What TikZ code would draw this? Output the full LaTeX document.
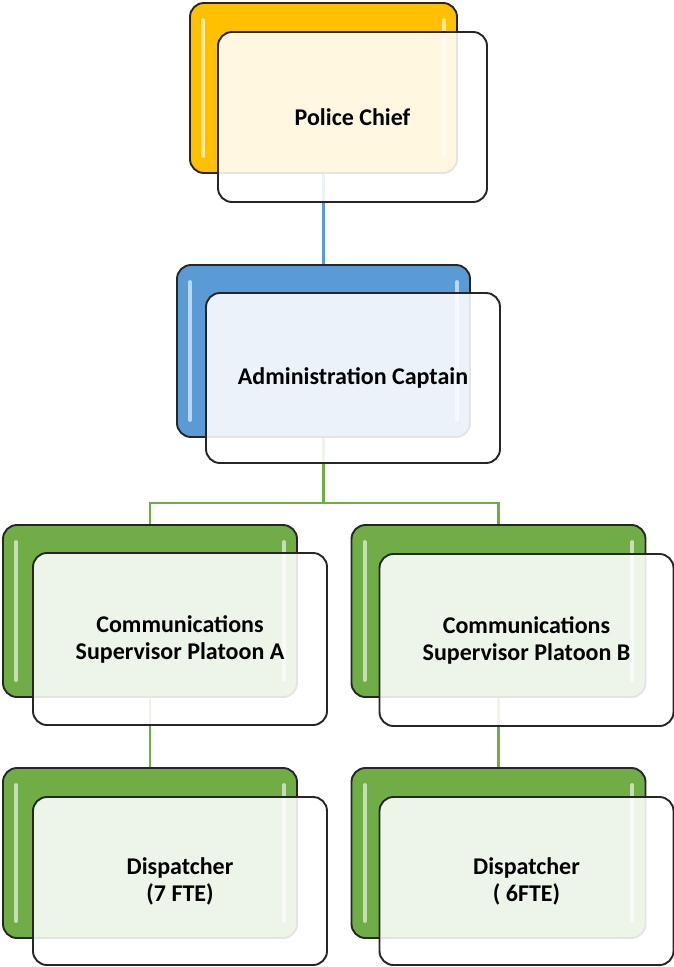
\documentclass[tikz,border=0pt]{standalone}
\usepackage{fontspec}
\setmainfont{Carlito}
\definecolor{cgold}{HTML}{FFC000}
\definecolor{cblue}{HTML}{5B9BD5}
\definecolor{cgreen}{HTML}{70AD47}
\begin{document}
\begin{tikzpicture}[x=1pt,y=-1pt,
  backbox/.style={draw=black!85, line width=1.9pt, rounded corners=14pt,
    minimum width=294pt, minimum height=172pt, inner sep=0pt},
  frontbox/.style={draw=black!85, line width=1.9pt, rounded corners=14pt,
    fill=white, fill opacity=0.88, text opacity=1,
    minimum width=294pt, minimum height=170pt, inner sep=0pt, align=center,
    font=\fontsize{24}{27}\selectfont\bfseries},
  glint/.style={white, opacity=0.6, line width=4pt, line cap=round},
  link/.style={line width=2.4pt}]
\useasboundingbox (0,0) rectangle (674,967);

% back boxes
\node[backbox, fill=cgold, minimum width=267pt, minimum height=170pt] (pcb) at (323.5,88) {};
\node[backbox, fill=cblue, minimum width=293pt] (adb) at (323.5,351) {};
\node[backbox, fill=cgreen] (cab) at (150,611) {};
\node[backbox, fill=cgreen] (cbb) at (498.5,611) {};
\node[backbox, fill=cgreen, minimum height=170pt] (dab) at (150,853) {};
\node[backbox, fill=cgreen, minimum height=170pt] (dbb) at (498.5,853) {};

% glints
\foreach \b in {pcb,adb,cab,cbb,dab,dbb}{
  \draw[glint] ([xshift=14pt,yshift=-18pt]\b.north west) -- ([xshift=14pt,yshift=18pt]\b.south west);
  \draw[glint] ([xshift=-14pt,yshift=-18pt]\b.north east) -- ([xshift=-14pt,yshift=18pt]\b.south east);
}

% connectors
\coordinate (j) at (323.5,503);
\draw[link, cblue] (pcb.south) -- (adb.north);
\draw[link, cgreen] (adb.south) -- (j) -| (cab.north);
\draw[link, cgreen] (j) -| (cbb.north);
\draw[link, cgreen] (cab.south) -- (dab.north);
\draw[link, cgreen] (cbb.south) -- (dbb.north);

% front boxes
\node[frontbox, minimum width=269pt] (pc) at (352.5,117) {Police Chief};
\node[frontbox] (ad) at (353,378) {Administration Captain};
\node[frontbox, minimum height=172pt] (ca) at (180,639) {Communications\\Supervisor Platoon A};
\node[frontbox, minimum height=172pt] (cb) at (526.5,640) {Communications\\Supervisor Platoon B};
\node[frontbox, minimum height=168pt] (da) at (180,881) {Dispatcher\\ (7 FTE)};
\node[frontbox, minimum height=168pt] (db) at (526.5,881) {Dispatcher\\( 6FTE)};
\end{tikzpicture}
\end{document}
